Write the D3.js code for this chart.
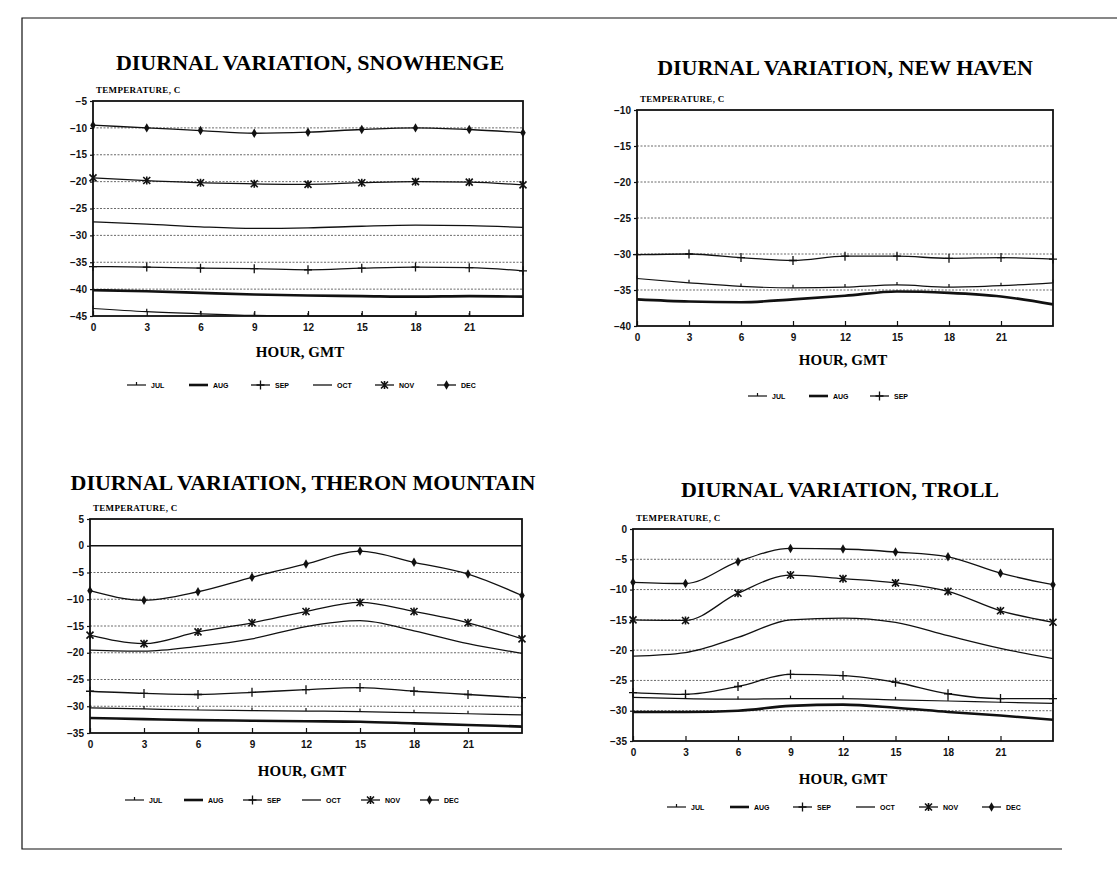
<!DOCTYPE html>
<html lang="en">
<head>
<meta charset="utf-8" />
<title>Diurnal Variation</title>
<script src="https://cdnjs.cloudflare.com/ajax/libs/d3/7.8.5/d3.min.js"></script>
<style>
    body { margin: 0; background: white; }
    .title { font-family: "Liberation Serif", "DejaVu Serif", serif; font-weight: bold; font-size: 22px; }
    .xlabel { font-family: "Liberation Serif", "DejaVu Serif", serif; font-weight: bold; font-size: 15px; }
    .ylabel { font-family: "Liberation Serif", "DejaVu Serif", serif; font-weight: bold; font-size: 9px; letter-spacing: 0.3px; }
    .tick text { font-family: "Liberation Sans", Arial, sans-serif; font-weight: bold; font-size: 10px; fill: #111; }
    .legend text { font-family: "Liberation Sans", Arial, sans-serif; font-weight: bold; font-size: 7px; }
</style>
</head>
<body>
<div id="chart"></div>
<script>
    // hours of the day (GMT) at which the means are given
    const hours = [0, 3, 6, 9, 12, 15, 18, 21, 24];
    const hourTicks = [0, 3, 6, 9, 12, 15, 18, 21];

    // Snowhenge
    const snowJul = [-43.6, -44.2, -44.6, -44.9, -45.0, -45.0, -45.0, -45.0, -45.0];
    const snowAug = [-40.2, -40.4, -40.7, -41.0, -41.2, -41.3, -41.4, -41.3, -41.4];
    const snowSep = [-35.8, -35.9, -36.1, -36.2, -36.4, -36.1, -35.9, -36.0, -36.6];
    const snowOct = [-27.5, -27.9, -28.4, -28.7, -28.6, -28.3, -28.1, -28.2, -28.5];
    const snowNov = [-19.3, -19.8, -20.2, -20.4, -20.5, -20.2, -20.0, -20.1, -20.6];
    const snowDec = [-9.5, -10.0, -10.5, -11.0, -10.8, -10.3, -10.0, -10.3, -10.9];

    // New Haven
    const nhJul = [-33.4, -34.0, -34.5, -34.7, -34.6, -34.3, -34.6, -34.4, -34.0];
    const nhAug = [-36.3, -36.6, -36.7, -36.3, -35.8, -35.2, -35.4, -35.9, -37.0];
    const nhSep = [-30.1, -30.0, -30.5, -30.9, -30.3, -30.3, -30.6, -30.5, -30.7];

    // Theron Mountain
    const thJul = [-30.3, -30.5, -30.7, -30.8, -30.9, -31.0, -31.2, -31.4, -31.6];
    const thAug = [-32.2, -32.4, -32.6, -32.7, -32.8, -32.9, -33.2, -33.5, -33.8];
    const thSep = [-27.2, -27.6, -27.8, -27.4, -26.9, -26.5, -27.2, -27.8, -28.4];
    const thOct = [-19.5, -19.7, -18.8, -17.4, -15.1, -14.0, -15.9, -18.3, -20.1];
    const thNov = [-16.7, -18.3, -16.1, -14.4, -12.3, -10.6, -12.3, -14.4, -17.4];
    const thDec = [-8.4, -10.2, -8.6, -5.9, -3.4, -1.0, -3.1, -5.3, -9.3];

    // Troll
    const trJul = [-27.8, -28.0, -28.1, -28.0, -28.0, -28.2, -28.4, -28.6, -28.8];
    const trAug = [-30.2, -30.2, -30.0, -29.2, -29.0, -29.5, -30.2, -30.8, -31.5];
    const trSep = [-27.0, -27.3, -26.0, -24.0, -24.2, -25.3, -27.2, -28.0, -28.0];
    const trOct = [-21.0, -20.4, -17.9, -15.0, -14.7, -15.4, -17.6, -19.7, -21.4];
    const trNov = [-15.0, -15.1, -10.6, -7.6, -8.2, -8.9, -10.3, -13.5, -15.4];
    const trDec = [-8.8, -9.0, -5.4, -3.2, -3.3, -3.8, -4.6, -7.3, -9.2];

    const svg = d3.select("#chart")
        .append("svg")
        .attr("width", 1117)
        .attr("height", 879);

    // page frame of the scanned sheet
    svg.append("path")
        .attr("d", "M1117,18H22V849H1062")
        .attr("fill", "none")
        .attr("stroke", "#111")
        .attr("stroke-width", 1.2);

    // line look per month
    const monthStyle = {
        JUL: {width: 1.2, marker: "tick"},
        AUG: {width: 2.6, marker: null},
        SEP: {width: 1.3, marker: "plus"},
        OCT: {width: 1.3, marker: null},
        NOV: {width: 1.3, marker: "star"},
        DEC: {width: 1.3, marker: "diamond"}
    };

    const panels = [
        {
            title: "DIURNAL VARIATION, SNOWHENGE", titleX: 310, titleY: 70,
            x0: 93, x1: 523, y0: 101, y1: 316, yDomain: [-45, -5],
            xlabelX: 300, xlabelY: 357, legendX: 127, legendY: 385, legendStep: 62,
            series: [["JUL", snowJul], ["AUG", snowAug], ["SEP", snowSep], ["OCT", snowOct], ["NOV", snowNov], ["DEC", snowDec]]
        },
        {
            title: "DIURNAL VARIATION, NEW HAVEN", titleX: 845, titleY: 75,
            x0: 637, x1: 1053, y0: 110, y1: 326, yDomain: [-40, -10],
            xlabelX: 843, xlabelY: 365, legendX: 748, legendY: 396, legendStep: 61,
            series: [["JUL", nhJul], ["AUG", nhAug], ["SEP", nhSep]]
        },
        {
            title: "DIURNAL VARIATION, THERON MOUNTAIN", titleX: 303, titleY: 490,
            x0: 90, x1: 522, y0: 519, y1: 733, yDomain: [-35, 5], zeroLine: true,
            xlabelX: 302, xlabelY: 776, legendX: 125, legendY: 800, legendStep: 59,
            series: [["JUL", thJul], ["AUG", thAug], ["SEP", thSep], ["OCT", thOct], ["NOV", thNov], ["DEC", thDec]]
        },
        {
            title: "DIURNAL VARIATION, TROLL", titleX: 840, titleY: 497,
            x0: 633, x1: 1053, y0: 529, y1: 741, yDomain: [-35, 0],
            xlabelX: 843, xlabelY: 784, legendX: 667, legendY: 807, legendStep: 63,
            series: [["JUL", trJul], ["AUG", trAug], ["SEP", trSep], ["OCT", trOct], ["NOV", trNov], ["DEC", trDec]]
        }
    ];

    function drawMarker(g, type, x, y) {
        if (type === "diamond") {
            g.append("path")
                .attr("d", d3.symbol().type(d3.symbolDiamond).size(26)())
                .attr("transform", `translate(${x},${y})`)
                .attr("fill", "#111");
        } else if (type === "star") {
            g.append("path")
                .attr("d", "M-3.5,-3.5L3.5,3.5M-3.5,3.5L3.5,-3.5M0,-4V4")
                .attr("transform", `translate(${x},${y})`)
                .attr("stroke", "#111").attr("stroke-width", 1.6);
        } else if (type === "plus") {
            g.append("path")
                .attr("d", "M-4,0H4M0,-4.5V4.5")
                .attr("transform", `translate(${x},${y})`)
                .attr("stroke", "#111").attr("stroke-width", 1.3);
        } else if (type === "tick") {
            g.append("path")
                .attr("d", "M0,-3V0")
                .attr("transform", `translate(${x},${y})`)
                .attr("stroke", "#111").attr("stroke-width", 1.2);
        }
    }

    panels.forEach(p => {
        const g = svg.append("g");

        const x = d3.scaleLinear().domain([0, 24]).range([p.x0, p.x1]);
        const y = d3.scaleLinear().domain(p.yDomain).range([p.y1, p.y0]);
        const yTicks = d3.range(p.yDomain[0], p.yDomain[1] + 1, 5);

        g.append("text").attr("class", "title")
            .attr("x", p.titleX).attr("y", p.titleY)
            .attr("text-anchor", "middle")
            .text(p.title);

        g.append("text").attr("class", "ylabel")
            .attr("x", p.x0 + 3).attr("y", p.y0 - 8)
            .text("TEMPERATURE, C");

        // dotted gridlines every 5 degrees, a solid one at zero
        g.selectAll(".grid")
            .data(yTicks.filter(v => v > p.yDomain[0] && v < p.yDomain[1]))
            .enter()
            .append("line")
            .attr("x1", p.x0).attr("x2", p.x1)
            .attr("y1", d => y(d)).attr("y2", d => y(d))
            .attr("stroke", d => d === 0 && p.zeroLine ? "#111" : "#444")
            .attr("stroke-width", d => d === 0 && p.zeroLine ? 1.3 : 0.8)
            .attr("stroke-dasharray", d => d === 0 && p.zeroLine ? null : "2,1.5");

        const yAxis = g.append("g")
            .attr("transform", `translate(${p.x0},0)`)
            .call(d3.axisLeft(y).tickValues(yTicks).tickSize(3).tickPadding(3).tickFormat(d3.format("d")));
        yAxis.select(".domain").remove();

        const xAxis = g.append("g")
            .attr("transform", `translate(0,${p.y1})`)
            .call(d3.axisBottom(x).tickValues(hourTicks).tickSize(-5).tickPadding(8).tickFormat(d3.format("d")));
        xAxis.select(".domain").remove();
        g.selectAll(".tick line").attr("stroke", "#111").attr("stroke-width", 1.2);

        g.append("rect")
            .attr("x", p.x0).attr("y", p.y0)
            .attr("width", p.x1 - p.x0).attr("height", p.y1 - p.y0)
            .attr("fill", "none").attr("stroke", "#111").attr("stroke-width", 1.8);

        g.append("text").attr("class", "xlabel")
            .attr("x", p.xlabelX).attr("y", p.xlabelY)
            .attr("text-anchor", "middle")
            .text("HOUR, GMT");

        const line = d3.line()
            .x((d, i) => x(hours[i]))
            .y(d => y(d))
            .curve(d3.curveMonotoneX);

        p.series.forEach(([month, values]) => {
            const st = monthStyle[month];
            g.append("path")
                .attr("d", line(values))
                .attr("fill", "none")
                .attr("stroke", "#111")
                .attr("stroke-width", st.width);
            if (st.marker) {
                values.forEach((v, i) => drawMarker(g, st.marker, x(hours[i]), y(v)));
            }
        });

        // legend row under the axis title
        const lg = g.append("g").attr("class", "legend");
        p.series.forEach(([month], i) => {
            const st = monthStyle[month];
            const lx = p.legendX + i * p.legendStep;
            lg.append("line")
                .attr("x1", lx).attr("x2", lx + 19)
                .attr("y1", p.legendY).attr("y2", p.legendY)
                .attr("stroke", "#111").attr("stroke-width", st.width);
            if (st.marker) drawMarker(lg, st.marker, lx + 9.5, p.legendY);
            lg.append("text")
                .attr("x", lx + 24).attr("y", p.legendY + 2.5)
                .text(month);
        });
    });
</script>
</body>
</html>
